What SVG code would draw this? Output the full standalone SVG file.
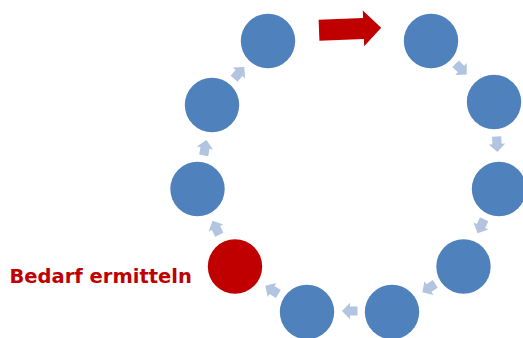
<svg xmlns="http://www.w3.org/2000/svg" xmlns:xlink="http://www.w3.org/1999/xlink" width="523" height="338" viewBox="0 0 523 338">
<defs>
<style>
.n{fill:#4F81BD}
.r{fill:#C00000}
.c{fill:#B3C4E0}
.lbl{font-family:"DejaVu Sans",Verdana,sans-serif;font-weight:bold;font-size:19.5px;fill:#C00000}
</style>
<path id="sa" d="M-7.5,-4.6 L0,-4.6 L0,-8.2 L8,0 L0,8.2 L0,4.6 L-7.5,4.6 Z"/>
</defs>
<rect width="523" height="338" fill="#FFFFFF"/>
<g id="connectors">
<path class="r" transform="rotate(-2.2 350 29)" d="M319,18.5 L363.5,18.5 L363.5,11.1 L381.2,29 L363.5,46.9 L363.5,39.5 L319,39.5 Z"/>
<use xlink:href="#sa" class="c" transform="translate(461,69) rotate(44)"/>
<use xlink:href="#sa" class="c" transform="translate(497,144) rotate(87)"/>
<use xlink:href="#sa" class="c" transform="translate(481,226) rotate(115)"/>
<use xlink:href="#sa" class="c" transform="translate(429,288) rotate(147)"/>
<use xlink:href="#sa" class="c" transform="translate(350,311) rotate(180)"/>
<use xlink:href="#sa" class="c" transform="translate(272,290) rotate(212)"/>
<use xlink:href="#sa" class="c" transform="translate(216,228) rotate(244)"/>
<use xlink:href="#sa" class="c" transform="translate(205,148) rotate(280)"/>
<use xlink:href="#sa" class="c" transform="translate(239,73) rotate(311)"/>
</g>
<g id="n1"><circle class="n" cx="268" cy="41" r="27.2"/></g>
<g id="n2"><circle class="n" cx="431" cy="41" r="27.2"/></g>
<g id="n3"><circle class="n" cx="494" cy="102" r="27.2"/></g>
<g id="n4"><circle class="n" cx="499" cy="189" r="27.2"/></g>
<g id="n5"><circle class="n" cx="463.5" cy="266.5" r="27.2"/></g>
<g id="n6"><circle class="n" cx="392" cy="312" r="27.2"/></g>
<g id="n7"><circle class="n" cx="307" cy="312" r="27.2"/></g>
<g id="n8"><circle class="r" cx="235" cy="266.5" r="27.2"/><text class="lbl" x="9.5" y="283">Bedarf ermitteln</text></g>
<g id="n9"><circle class="n" cx="197.5" cy="189" r="27.2"/></g>
<g id="n10"><circle class="n" cx="212" cy="105" r="27.2"/></g>
</svg>
